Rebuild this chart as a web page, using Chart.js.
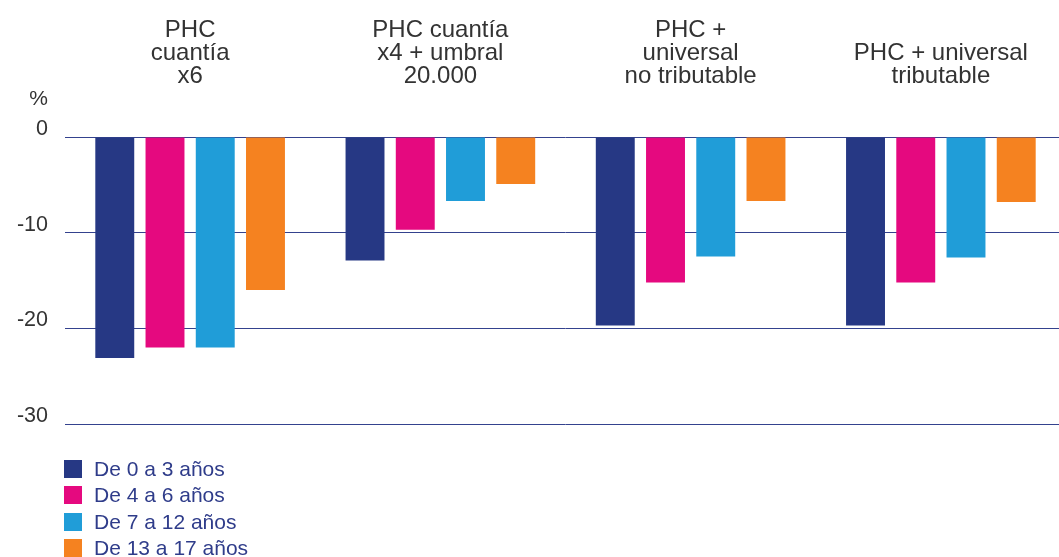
<!DOCTYPE html>
<html lang="es">
<head>
<meta charset="utf-8">
<title>Reducción de la pobreza infantil por edad</title>
<script src="https://cdn.jsdelivr.net/npm/chart.js@4.4.1/dist/chart.umd.min.js"></script>
<style>
  html, body { margin: 0; padding: 0; background: #ffffff; overflow: hidden; }
  #wrap { position: relative; width: 1059px; height: 557px; overflow: hidden; }
  #chart { position: absolute; left: 0; top: 0; }
  #legend { position: absolute; left: 64px; top: 456px; font-family: "Liberation Sans", Arial, sans-serif;
            font-size: 21px; color: #2f3c8a; line-height: 26.3px; }
  #legend .row { display: flex; align-items: center; height: 26.3px; white-space: nowrap; }
  #legend .sw { width: 18px; height: 18px; margin-right: 12px; flex: none; }
</style>
</head>
<body>
<div id="wrap">
  <canvas id="chart" width="1066" height="557"></canvas>
  <div id="legend"></div>
</div>
<script>
// Escenarios (título en varias líneas)
const categories = [
  ["PHC", "cuantía", "x6"],
  ["PHC cuantía", "x4 + umbral", "20.000"],
  ["PHC +", "universal", "no tributable"],
  ["PHC + universal", "tributable"]
];

// Grupos de edad
const seriesNames = ["De 0 a 3 años", "De 4 a 6 años", "De 7 a 12 años", "De 13 a 17 años"];
const seriesColors = ["#263884", "#e5097f", "#209dd8", "#f58220"];

// Variación (%) por escenario
const age0to3   = [-23.1, -12.9, -19.7, -19.7];
const age4to6   = [-22.0, -9.7, -15.2, -15.2];
const age7to12  = [-22.0, -6.7, -12.5, -12.6];
const age13to17 = [-16.0, -4.9, -6.7, -6.8];

const yTicks = [0, -10, -20, -30];
const unitLabel = "%";

const seriesValues = [age0to3, age4to6, age7to12, age13to17];
const FONT = '"Liberation Sans", Arial, sans-serif';

// "%" sobre la etiqueta del cero
const unitPlugin = {
  id: 'unitLabel',
  afterDraw(chart) {
    const y = chart.scales.y;
    const ctx = chart.ctx;
    ctx.save();
    ctx.font = '21px ' + FONT;
    ctx.fillStyle = '#333333';
    ctx.textAlign = 'right';
    ctx.textBaseline = 'alphabetic';
    ctx.fillText(unitLabel, y.right - 17, y.getPixelForValue(0) - 32);
    ctx.restore();
  }
};

new Chart(document.getElementById('chart'), {
  type: 'bar',
  data: {
    labels: categories,
    datasets: seriesNames.map((name, i) => ({
      label: name,
      data: seriesValues[i],
      backgroundColor: seriesColors[i],
      borderWidth: 0,
      categoryPercentage: 0.803,
      barPercentage: 0.775
    }))
  },
  options: {
    responsive: false,
    animation: false,
    layout: { padding: { left: 0, right: 0, top: 0, bottom: 133 } },
    plugins: {
      legend: { display: false },
      tooltip: { enabled: false }
    },
    scales: {
      x: {
        position: 'top',
        afterFit(scale) {
          scale.height = 137;
          scale.paddingLeft = 0;
          scale.paddingRight = 0;
        },
        grid: { display: false, drawTicks: false },
        border: { display: false },
        ticks: {
          padding: 49,
          color: '#333333',
          font: { family: FONT, size: 24, lineHeight: 0.96 },
          maxRotation: 0,
          autoSkip: false
        }
      },
      y: {
        min: -30,
        max: 0,
        afterFit(scale) {
          scale.width = 65;
          scale.paddingTop = 0;
          scale.paddingBottom = 0;
        },
        afterBuildTicks(scale) { scale.ticks = yTicks.map(v => ({ value: v })); },
        grid: { color: '#34428e', lineWidth: 1, drawTicks: false },
        border: { display: false },
        ticks: {
          padding: 17,
          labelOffset: -8,
          color: '#333333',
          font: { family: FONT, size: 21.5 }
        }
      }
    }
  },
  plugins: [unitPlugin]
});

// Leyenda vertical
const legend = document.getElementById('legend');
seriesNames.forEach((name, i) => {
  const row = document.createElement('div');
  row.className = 'row';
  const sw = document.createElement('span');
  sw.className = 'sw';
  sw.style.background = seriesColors[i];
  const txt = document.createElement('span');
  txt.textContent = name;
  row.appendChild(sw);
  row.appendChild(txt);
  legend.appendChild(row);
});
</script>
</body>
</html>
